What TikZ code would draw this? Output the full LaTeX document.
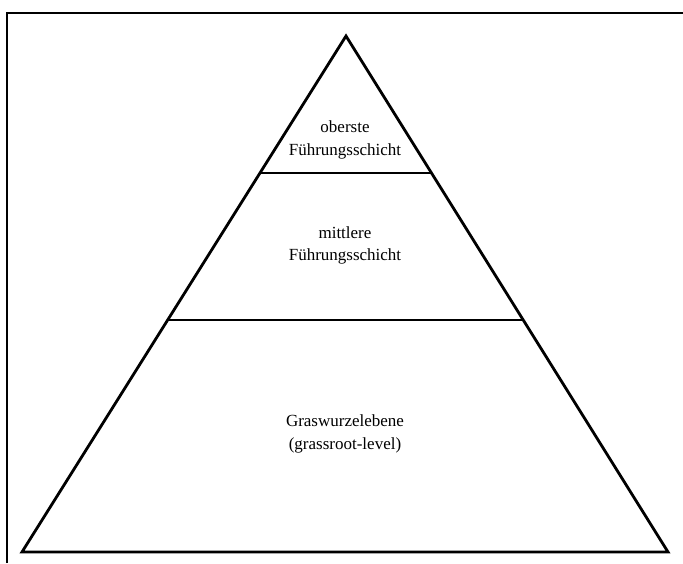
\documentclass[tikz,border=0pt]{standalone}
\usepackage{fontspec}
\setmainfont{Liberation Serif}
\usetikzlibrary{calc}
\begin{document}
\begin{tikzpicture}[x=1pt,y=1pt,
  frameline/.style={line width=2.2pt},
  pyramidline/.style={line width=2.8pt,line join=miter},
  levelline/.style={line width=1.2pt},
  label/.style={align=center,inner sep=0pt,font=\fontsize{17}{22.5}\selectfont}]
\useasboundingbox (0,0) rectangle (683,563);
% frame (top and left edges)
\coordinate (fbl) at (7,0);
\coordinate (ftl) at (7,550);
\coordinate (ftr) at (683,550);
\draw[frameline] (fbl) -- (ftl) -- (ftr);
% pyramid
\coordinate (apex) at (346,527);
\coordinate (bl) at (22,11);
\coordinate (br) at (668,11);
\draw[pyramidline] (apex) -- (bl) -- (br) -- cycle;
% level lines
\coordinate (l1a) at ($(apex)!0.2655!(bl)$);
\coordinate (l1b) at ($(apex)!0.2655!(br)$);
\coordinate (l2a) at ($(apex)!0.5504!(bl)$);
\coordinate (l2b) at ($(apex)!0.5504!(br)$);
\draw[levelline] (l1a) -- (l1b);
\draw[levelline] (l2a) -- (l2b);
% labels
\node[label] (top) at (345,423) {oberste\\Führungsschicht};
\node[label] (mid) at (345,317.5) {mittlere\\Führungsschicht};
\node[label] (base) at (345,129) {Graswurzelebene\\(grassroot-level)};
\end{tikzpicture}
\end{document}
